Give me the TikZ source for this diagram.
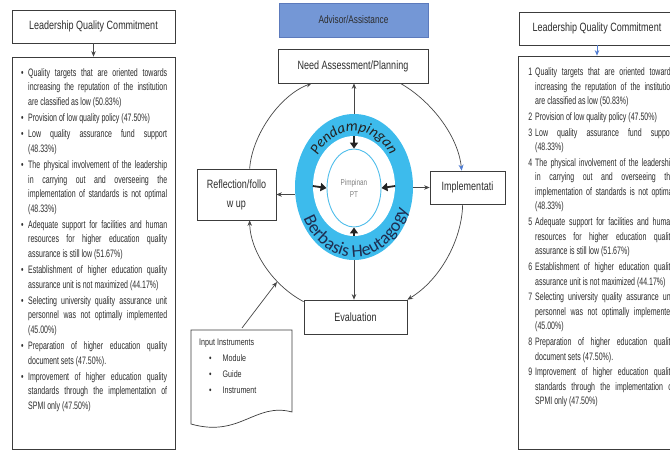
\documentclass[tikz,border=0pt]{standalone}
\usepackage{fontspec}
\setmainfont{Liberation Sans}[FakeStretch=0.75]
\newfontfamily\listfont{Liberation Sans}[FakeStretch=0.65]
\newfontfamily\ringfont{Carlito}
\usetikzlibrary{arrows.meta,shapes.geometric,calc,decorations.text}
\definecolor{ringblue}{RGB}{61,187,236}
\definecolor{circblue}{RGB}{80,190,235}
\definecolor{advblue}{RGB}{116,151,214}
\definecolor{advborder}{RGB}{92,122,188}
\definecolor{boxgray}{RGB}{60,60,60}
\definecolor{linegray}{RGB}{70,70,70}
\definecolor{textgray}{RGB}{45,45,45}
\definecolor{tipblue}{RGB}{80,125,210}
\definecolor{navytext}{RGB}{30,45,80}
\definecolor{pendcol}{RGB}{35,35,35}
\newcommand\bitem[1]{\par\noindent\llap{\textbullet\hspace{4.5pt}}#1}
\newcommand\nitem[2]{\par\noindent\llap{#1\hspace{3pt}}#2}
\begin{document}
\begin{tikzpicture}[x=1pt,y=-1pt,
  box/.style={draw=boxgray, line width=0.7pt, fill=white, inner sep=0pt, align=center, font=\fontsize{12}{14}\selectfont, text=textgray},
  arr/.style={draw=linegray, line width=0.7pt, -{Stealth[length=5.5pt,width=4.5pt]}},
  inarr/.style={draw=pendcol, line width=1.8pt, -{Triangle[length=6pt,width=8pt]}},
  listtext/.style={anchor=north west, inner sep=0pt, text width=139pt, align=justify, font=\listfont\fontsize{10.8}{14.6}\selectfont, text=textgray},
]
\useasboundingbox (0,0) rectangle (670,451);
\clip (0,0) rectangle (670,451);
\fill[white] (0,0) rectangle (670,451);

% ---------- left column ----------
\node[box, minimum width=163pt, minimum height=33pt] (titleL) at (93.5,26.5) {Leadership Quality Commitment};
\node[box, minimum width=163pt, minimum height=392pt] (listL) at (93.5,253) {};
\draw[arr] (titleL.south) -- (listL.north);
\node[listtext] (itemsL) at (28,60) {\tolerance=10000\setlength{\parskip}{1.5pt}%
\bitem{Quality targets that are oriented towards\linebreak increasing the reputation of the institution\linebreak are classified as low (50.83\%)}
\bitem{Provision of low quality policy (47.50\%)}
\bitem{Low quality assurance fund support\linebreak (48.33\%)}
\bitem{The physical involvement of the leadership\linebreak in carrying out and overseeing the\linebreak implementation of standards is not optimal\linebreak (48.33\%)}
\bitem{Adequate support for facilities and human\linebreak resources for higher education quality\linebreak assurance is still low (51.67\%)}
\bitem{Establishment of higher education quality\linebreak assurance unit is not maximized (44.17\%)}
\bitem{Selecting university quality assurance unit\linebreak personnel was not optimally implemented\linebreak (45.00\%)}
\bitem{Preparation of higher education quality\linebreak document sets (47.50\%).}
\bitem{Improvement of higher education quality\linebreak standards through the implementation of\linebreak SPMI only (47.50\%)}};

% ---------- right column ----------
\node[box, minimum width=156pt, minimum height=33pt] (titleR) at (597,28.5) {Leadership Quality Commitment};
\node[box, minimum width=158pt, minimum height=393pt] (listR) at (597,252.5) {};
\draw[arr, draw=tipblue, -{Stealth[length=5.5pt,width=4.5pt,color=tipblue]}] (titleR.south) -- (listR.north);
\node[listtext, font=\listfont\fontsize{10.8}{14.5}\selectfont] (itemsR) at (535,59.5) {\tolerance=10000\setlength{\parskip}{1.3pt}%
\nitem{1}{Quality targets that are oriented towards\linebreak increasing the reputation of the institution\linebreak are classified as low (50.83\%)}
\nitem{2}{Provision of low quality policy (47.50\%)}
\nitem{3}{Low quality assurance fund support\linebreak (48.33\%)}
\nitem{4}{The physical involvement of the leadership\linebreak in carrying out and overseeing the\linebreak implementation of standards is not optimal\linebreak (48.33\%)}
\nitem{5}{Adequate support for facilities and human\linebreak resources for higher education quality\linebreak assurance is still low (51.67\%)}
\nitem{6}{Establishment of higher education quality\linebreak assurance unit is not maximized (44.17\%)}
\nitem{7}{Selecting university quality assurance unit\linebreak personnel was not optimally implemented\linebreak (45.00\%)}
\nitem{8}{Preparation of higher education quality\linebreak document sets (47.50\%).}
\nitem{9}{Improvement of higher education quality\linebreak standards through the implementation of\linebreak SPMI only (47.50\%)}};

% ---------- centre ----------
\node[box, fill=advblue, draw=advborder, minimum width=149pt, minimum height=34pt, font=\fontsize{11}{13}\selectfont] (adv) at (353.5,20) {Advisor/Assistance};
\node[box, minimum width=150pt, minimum height=34pt] (need) at (353,66) {Need Assessment/Planning};
\node[box, minimum width=79pt, minimum height=51pt, font=\fontsize{12}{19}\selectfont] (refl) at (236.5,194.5) {Reflection/follo\\w up};
\node[box, minimum width=75pt, minimum height=33pt] (impl) at (467.5,187.5) {Implementati};
\node[box, minimum width=103pt, minimum height=34pt] (eval) at (355.5,317) {Evaluation};

% cycle arcs
\draw[arr, -{Stealth[length=6pt,width=5pt,color=tipblue]}] ($(need.south east)+(-28,0)$) .. controls (430,100) and (458,135) .. ($(impl.north west)+(32,0)$);
\draw[arr] ($(impl.south west)+(33,0)$) .. controls (462,240) and (440,280) .. (eval.north east);
\draw[arr] ($(eval.north west)+(0,2)$) .. controls (272,285) and (250,250) .. ($(refl.south west)+(53,0)$);
\draw[arr] ($(refl.north west)+(53,0)$) .. controls (252,135) and (280,95) .. ($(need.south west)+(34,0)$);

% ring
\node[ellipse, fill=ringblue, minimum width=118pt, minimum height=146pt, inner sep=0pt] (ring) at (354,187) {};
\node[ellipse, fill=white, minimum width=82pt, minimum height=100pt, inner sep=0pt] (ringin) at (354,186) {};
\node[ellipse, draw=circblue, line width=0.9pt, minimum width=54pt, minimum height=78pt, inner sep=0pt, align=center, font=\fontsize{8.5}{12}\selectfont, text=gray] (pimp) at (354,188) {Pimpinan\\PT};

\path[decorate, decoration={text along path, text align=center, text color=pendcol,
  text={|\ringfont\itshape\fontsize{15}{15}\selectfont|Pendampingan}}]
  ($(ring.center)+(152:44pt and 56pt)$) arc[start angle=152, end angle=28, x radius=44pt, y radius=56pt];
\path[decorate, decoration={text along path, text align=center, text color=navytext,
  text={|\ringfont\fontsize{18}{18}\selectfont|Berbasis Heutagogy}}]
  ($(ring.center)+(188:56.5pt and 70pt)$) arc[start angle=188, end angle=360, x radius=56.5pt, y radius=70pt];

% inner arrows
\draw[inarr] (ringin.north) -- (pimp.north);
\draw[inarr] (ringin.south) -- (pimp.south);
\draw[inarr] (ringin.west) -- (pimp.west);
\draw[inarr] (ringin.east) -- (pimp.east);

% connectors from ring
\draw[arr] (ring.north) -- (ring.north |- need.south);
\draw[arr] (ring.south) -- (ring.south |- eval.north);
\draw[arr] (refl.east -| ring.west) -- (refl.east);
\draw[arr] (impl.west -| ring.east) -- (impl.west);

% input instruments document
\draw[boxgray, line width=0.7pt, fill=white] (191,330) -- (292,330) -- (292,412) .. controls (255,402) and (240,438) .. (191,424) -- cycle;
\node[anchor=north west, inner sep=0pt, align=left, font=\fontsize{9.5}{16}\selectfont, text=textgray] (docText) at (199,338.5) {Input Instruments\\\hspace*{10pt}\textbullet\hspace{11pt}Module\\\hspace*{10pt}\textbullet\hspace{11pt}Guide\\\hspace*{10pt}\textbullet\hspace{11pt}Instrument};
\coordinate (docTop) at (242,328);
\coordinate (arcPt) at (277,282);
\draw[arr] (docTop) -- (arcPt);
\end{tikzpicture}
\end{document}
